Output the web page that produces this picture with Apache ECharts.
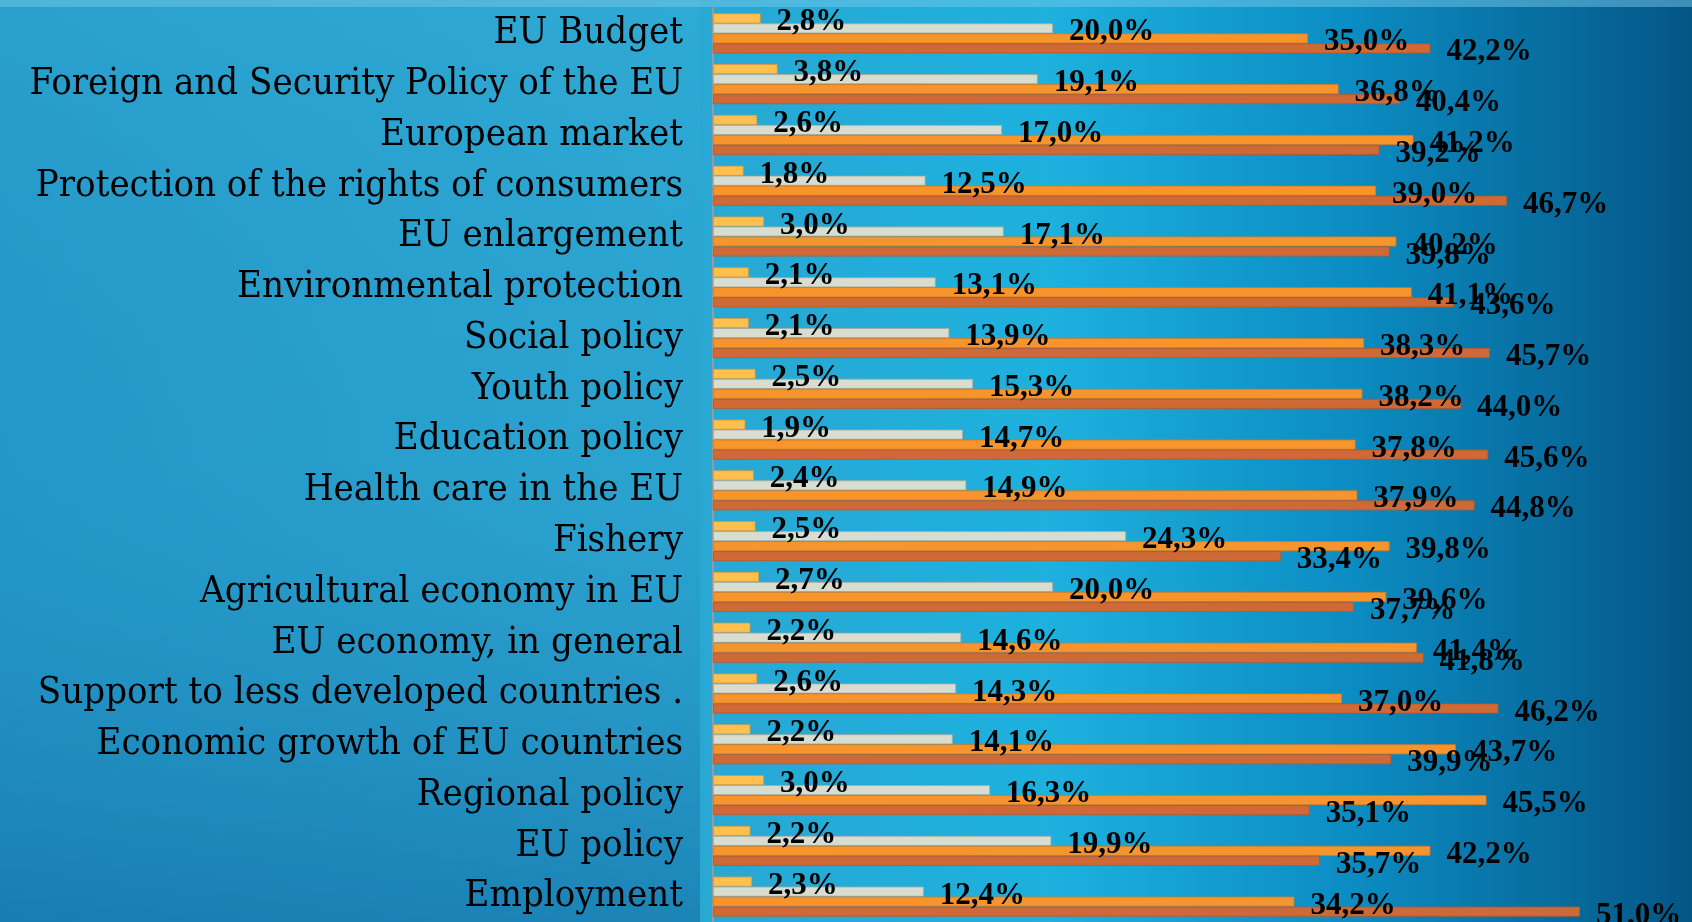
<!DOCTYPE html>
<html>
<head>
<meta charset="utf-8">
<style>
  html, body { margin: 0; padding: 0; }
  #chart { width: 1692px; height: 922px; }
</style>
<script src="https://cdn.jsdelivr.net/npm/echarts@6/dist/echarts.min.js"></script>
</head>
<body>
<div id="chart"></div>
<script>
// categories, top to bottom
const topics = [
    'EU Budget',
    'Foreign and Security Policy of the EU',
    'European market',
    'Protection of the rights of consumers',
    'EU enlargement',
    'Environmental protection',
    'Social policy',
    'Youth policy',
    'Education policy',
    'Health care in the EU',
    'Fishery',
    'Agricultural economy in EU',
    'EU economy, in general',
    'Support to less developed countries .',
    'Economic growth of EU countries',
    'Regional policy',
    'EU policy',
    'Employment'
];

// four answer groups per topic (%)
const yellowVals = [2.8, 3.8, 2.6, 1.8, 3.0, 2.1, 2.1, 2.5, 1.9, 2.4, 2.5, 2.7, 2.2, 2.6, 2.2, 3.0, 2.2, 2.3];
const greyVals   = [20.0, 19.1, 17.0, 12.5, 17.1, 13.1, 13.9, 15.3, 14.7, 14.9, 24.3, 20.0, 14.6, 14.3, 14.1, 16.3, 19.9, 12.4];
const orangeVals = [35.0, 36.8, 41.2, 39.0, 40.2, 41.1, 38.3, 38.2, 37.8, 37.9, 39.8, 39.6, 41.4, 37.0, 43.7, 45.5, 42.2, 34.2];
const darkVals   = [42.2, 40.4, 39.2, 46.7, 39.8, 43.6, 45.7, 44.0, 45.6, 44.8, 33.4, 37.7, 41.8, 46.2, 39.9, 35.1, 35.7, 51.0];

const fmt = p => p.value.toFixed(1).replace('.', ',') + '%';

function barSeries(name, data, color, edge) {
    return {
        name: name,
        type: 'bar',
        data: data,
        barGap: '0%',
        barWidth: 10,
        itemStyle: {
            color: color,
            borderColor: edge,
            borderWidth: 0.8
        },
        label: {
            show: true,
            position: 'right',
            distance: 16,
            offset: [0, 4],
            formatter: fmt,
            color: '#000',
            fontFamily: 'Liberation Serif',
            fontWeight: 'bold',
            fontSize: 31
        }
    };
}

const chart = echarts.init(document.getElementById('chart'));
chart.setOption({
    animation: false,
    backgroundColor: {
        type: 'linear', x: 0, y: 0, x2: 1, y2: 0,
        colorStops: [
            { offset: 0, color: '#2399c9' },
            { offset: 0.38, color: '#2ba6d2' },
            { offset: 0.62, color: '#1db1de' },
            { offset: 0.8, color: '#0b8cc2' },
            { offset: 1, color: '#045686' }
        ]
    },
    graphic: [
        {
            type: 'rect',
            shape: { x: 0, y: 0, width: 700, height: 922 },
            style: {
                fill: {
                    type: 'linear', x: 0, y: 0, x2: 0, y2: 1,
                    colorStops: [
                        { offset: 0, color: 'rgba(60,180,220,0.25)' },
                        { offset: 0.5, color: 'rgba(40,140,190,0.1)' },
                        { offset: 1, color: 'rgba(10,90,150,0.45)' }
                    ]
                }
            },
            silent: true,
            z: -1
        },
        {
            type: 'rect',
            shape: { x: 0, y: 0, width: 1692, height: 7 },
            style: { fill: 'rgba(120,200,230,0.5)' },
            silent: true,
            z: -1
        }
    ],
    grid: {
        left: 713,
        right: 10,
        top: 8,
        bottom: 0
    },
    xAxis: {
        type: 'value',
        min: 0,
        max: 57,
        show: false
    },
    yAxis: {
        type: 'category',
        inverse: true,
        data: topics,
        axisTick: { show: false },
        axisLine: { lineStyle: { color: '#9a9a9a', width: 2 } },
        axisLabel: {
            margin: 30,
            color: '#000',
            fontFamily: 'DejaVu Serif Condensed, Liberation Serif',
            fontSize: 38
        }
    },
    series: [
        barSeries('a', yellowVals, '#ffc04f', '#d99a3a'),
        barSeries('b', greyVals, '#d7ddd0', '#a9a99b'),
        barSeries('c', orangeVals, '#f7952c', '#d27b22'),
        barSeries('d', darkVals, '#cf6a36', '#b2582b')
    ]
});
</script>
</body>
</html>
